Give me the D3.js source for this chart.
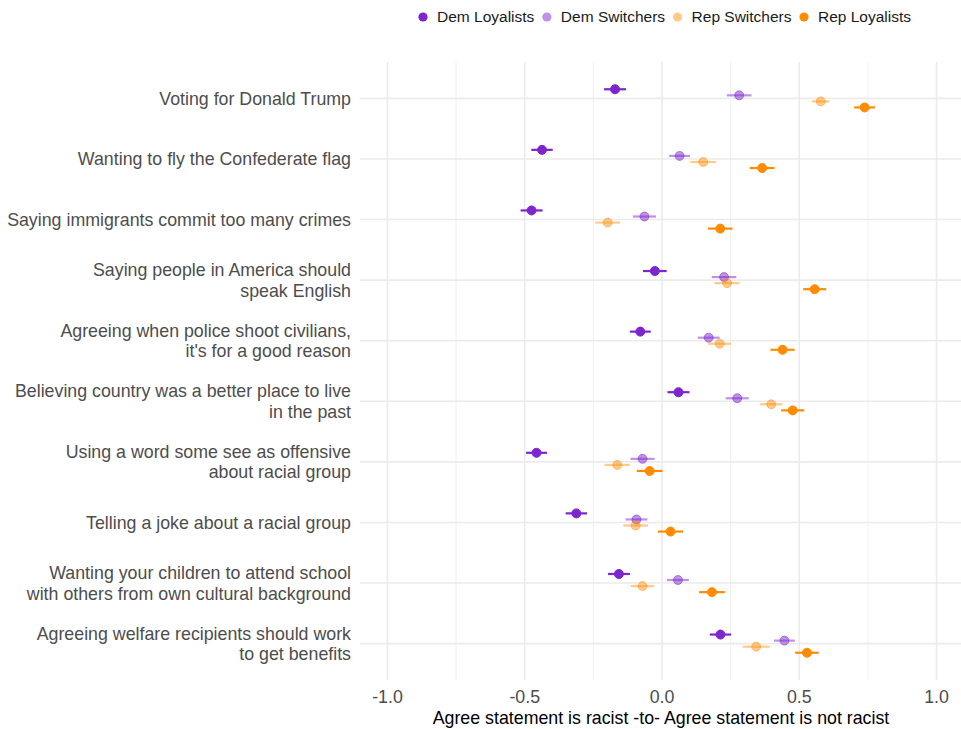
<!DOCTYPE html>
<html>
<head>
<meta charset="utf-8">
<script src="https://cdn.jsdelivr.net/npm/d3@7"></script>
<style>
  body { margin: 0; background: #fff; }
  .chart text { font-family: "Liberation Sans", Arial, sans-serif; }
</style>
</head>
<body>
<div class="chart"></div>
<script>
// Data
var statements = [
  "Voting for Donald Trump",
  "Wanting to fly the Confederate flag",
  "Saying immigrants commit too many crimes",
  "Saying people in America should|speak English",
  "Agreeing when police shoot civilians,|it's for a good reason",
  "Believing country was a better place to live|in the past",
  "Using a word some see as offensive|about racial group",
  "Telling a joke about a racial group",
  "Wanting your children to attend school|with others from own cultural background",
  "Agreeing welfare recipients should work|to get benefits"
];

var groups = ["Dem Loyalists", "Dem Switchers", "Rep Switchers", "Rep Loyalists"];

var demLoyalists = [-0.171, -0.437, -0.475, -0.026, -0.079, 0.060, -0.457, -0.312, -0.157, 0.213];
var demSwitchers = [0.281, 0.064, -0.064, 0.226, 0.170, 0.274, -0.071, -0.093, 0.058, 0.446];
var repSwitchers = [0.578, 0.150, -0.198, 0.237, 0.210, 0.398, -0.163, -0.096, -0.071, 0.343];
var repLoyalists = [0.738, 0.365, 0.212, 0.556, 0.439, 0.476, -0.045, 0.031, 0.182, 0.528];

// half-width of each error bar
var demLoyalistsErr = [0.040, 0.039, 0.040, 0.043, 0.038, 0.040, 0.038, 0.039, 0.040, 0.039];
var demSwitchersErr = [0.045, 0.038, 0.042, 0.045, 0.040, 0.042, 0.044, 0.040, 0.040, 0.038];
var repSwitchersErr = [0.032, 0.047, 0.045, 0.046, 0.042, 0.041, 0.046, 0.045, 0.043, 0.049];
var repLoyalistsErr = [0.038, 0.045, 0.045, 0.042, 0.044, 0.042, 0.047, 0.046, 0.047, 0.043];

var xTicks = [-1.0, -0.5, 0.0, 0.5, 1.0];
var xMinorTicks = [-0.75, -0.25, 0.25, 0.75];

// Set up the chart
var svgWidth = 961;
var svgHeight = 729;
var margin = { top: 62, right: -3, bottom: 49, left: 360 };
var width = svgWidth - margin.left - margin.right;
var height = svgHeight - margin.top - margin.bottom;

var colors = ["#7D26CD", "#7D26CD", "#FF8C00", "#FF8C00"];
var opacities = [1, 0.5, 0.45, 1];

var svg = d3.select(".chart")
  .append("svg")
  .attr("width", svgWidth)
  .attr("height", svgHeight);

var chart = svg.append("g")
  .attr("transform", "translate(" + margin.left + "," + margin.top + ")");

var xScale = d3.scaleLinear().domain([-1.1, 1.1]).range([0, width]);
var yScale = d3.scalePoint().domain(statements).range([0, height]).padding(0.6);
var dodge = d3.scalePoint().domain(groups).range([-1, 1]);
var dodgeSize = yScale.step() * 0.15;

// grid lines
chart.append("g").selectAll("line.minor")
  .data(xMinorTicks).enter().append("line")
  .attr("x1", function(d) { return xScale(d); })
  .attr("x2", function(d) { return xScale(d); })
  .attr("y1", 0).attr("y2", height)
  .attr("stroke", "#EFEFEF").attr("stroke-width", 1);

chart.append("g").selectAll("line.major")
  .data(xTicks).enter().append("line")
  .attr("x1", function(d) { return xScale(d); })
  .attr("x2", function(d) { return xScale(d); })
  .attr("y1", 0).attr("y2", height)
  .attr("stroke", "#EBEBEB").attr("stroke-width", 1.6);

chart.append("g").selectAll("line.row")
  .data(statements).enter().append("line")
  .attr("x1", 0).attr("x2", width)
  .attr("y1", function(d) { return yScale(d); })
  .attr("y2", function(d) { return yScale(d); })
  .attr("stroke", "#EBEBEB").attr("stroke-width", 1.6);

// Build the long table
var values = [demLoyalists, demSwitchers, repSwitchers, repLoyalists];
var errs = [demLoyalistsErr, demSwitchersErr, repSwitchersErr, repLoyalistsErr];
var points = [];
groups.forEach(function(g, gi) {
  statements.forEach(function(s, si) {
    points.push({ group: g, gi: gi, statement: s, value: values[gi][si], err: errs[gi][si] });
  });
});

function yPos(d) {
  return yScale(d.statement) + dodge(d.group) * dodgeSize;
}

// alpha is applied per element, so the bar shows through the point as in ggplot
var marks = chart.append("g").selectAll("g")
  .data(points).enter().append("g");

marks.append("line")
  .attr("x1", function(d) { return xScale(d.value - d.err); })
  .attr("x2", function(d) { return xScale(d.value + d.err); })
  .attr("y1", yPos).attr("y2", yPos)
  .attr("stroke", function(d) { return colors[d.gi]; })
  .attr("stroke-opacity", function(d) { return opacities[d.gi]; })
  .attr("stroke-width", 2.2);

marks.append("circle")
  .attr("cx", function(d) { return xScale(d.value); })
  .attr("cy", yPos)
  .attr("r", 4.5)
  .attr("fill", function(d) { return colors[d.gi]; })
  .attr("fill-opacity", function(d) { return opacities[d.gi]; })
  .attr("stroke", function(d) { return colors[d.gi]; })
  .attr("stroke-opacity", function(d) { return opacities[d.gi]; })
  .attr("stroke-width", 1);

// x axis labels (plain hyphen for negatives, as in the original)
var tickFormat = function(d) { return d3.format(".1f")(d).replace("\u2212", "-"); };

chart.append("g").selectAll("text")
  .data(xTicks).enter().append("text")
  .attr("x", function(d) { return xScale(d); })
  .attr("y", height + 23)
  .attr("text-anchor", "middle")
  .attr("fill", "#4D4D4D")
  .style("font-size", "17.8px")
  .text(tickFormat);

chart.append("text")
  .attr("x", width / 2 - 1)
  .attr("y", height + 44)
  .attr("text-anchor", "middle")
  .attr("fill", "#000")
  .style("font-size", "17.8px")
  .text("Agree statement is racist -to- Agree statement is not racist");

// y axis labels
var yLabels = chart.append("g").selectAll("text")
  .data(statements).enter().append("text")
  .attr("text-anchor", "end")
  .attr("fill", "#4D4D4D")
  .style("font-size", "17.8px");

yLabels.each(function(d) {
  var lines = d.split("|");
  var t = d3.select(this);
  lines.forEach(function(line, i) {
    t.append("tspan")
      .attr("x", -9)
      .attr("y", yScale(d) + (i - (lines.length - 1) / 2) * 20.5)
      .attr("dy", "0.35em")
      .text(line);
  });
});

// legend
var legend = svg.append("g").attr("transform", "translate(423,17)");
var lx = 0;
groups.forEach(function(g, gi) {
  var item = legend.append("g").attr("transform", "translate(" + lx + ",0)");
  item.append("circle")
    .attr("r", 4.6)
    .attr("fill", colors[gi])
    .attr("opacity", opacities[gi]);
  var label = item.append("text")
    .attr("x", 14)
    .attr("dy", "0.35em")
    .attr("fill", "#1A1A1A")
    .style("font-size", "15.5px")
    .text(g);
  lx += 14 + label.node().getComputedTextLength() + 12.5;
});
</script>
</body>
</html>
